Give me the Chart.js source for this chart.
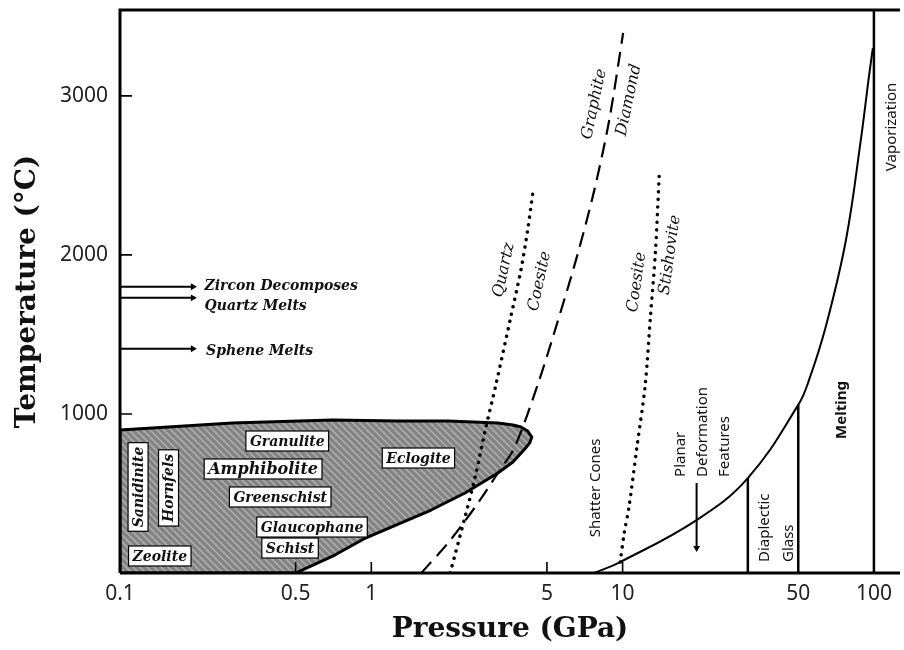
<!DOCTYPE html>
<html>
<head>
<meta charset="utf-8">
<script src="https://cdn.jsdelivr.net/npm/chart.js@4.4.0/dist/chart.umd.min.js"></script>
<style>
  html, body { margin: 0; padding: 0; background: #fff; }
  #wrap { width: 904px; height: 650px; position: relative; }
</style>
</head>
<body>
<div id="wrap"><canvas id="ptChart"></canvas></div>
<script>
// axis ticks
const pressureTicks = [0.1, 0.5, 1, 5, 10, 50, 100];
const tempTicks = [1000, 2000, 3000];
const innerTicksX = [0.5, 1, 5, 10];

// metamorphic facies field (closed outline, GPa / °C)
const faciesP = [0.1, 0.1, 0.28, 0.70, 1.28, 2.02, 3.19, 3.66, 3.94, 4.19, 4.35, 4.27, 4.08, 3.66, 3.19, 2.36, 1.73, 1.28, 0.948, 0.716, 0.5, 0.1];
const faciesT = [0, 899, 943, 962, 956, 956, 943, 931, 918, 893, 855, 818, 780, 698, 629, 503, 396, 308, 220, 113, 0, 0];

// quartz / coesite (dotted)
const qzCoeP = [2.06, 2.36, 2.59, 2.83, 3.13, 3.59, 3.94, 4.19, 4.39];
const qzCoeT = [0, 352, 604, 887, 1182, 1610, 1906, 2157, 2390];

// graphite / diamond (dashed)
const grDiaP = [1.58, 2.02, 2.59, 3.19, 3.72, 4.59, 5.51, 6.61, 7.72, 8.85, 10.05];
const grDiaT = [0, 189, 415, 629, 792, 1182, 1579, 2000, 2409, 2849, 3396];

// coesite / stishovite (dotted)
const coeStiP = [9.78, 10.15, 10.6, 11.4, 12.3, 12.9, 13.5, 14.0];
const coeStiT = [69, 252, 415, 792, 1182, 1610, 2013, 2516];

// shock melting curve
const meltP = [7.72, 9.78, 19.7, 31.5, 50, 55.2, 64.6, 77.4, 88.7, 95.5, 99];
const meltT = [0, 69, 333, 597, 1057, 1214, 1560, 2094, 2723, 3119, 3300];

// vertical boundaries: pressure, top temperature
const boundP = [31.5, 50, 100];
const boundTop = [597, 1057, 3540];

// arrows from the temperature axis
const arrowTemps = [1800, 1730, 1410];
const arrowP = [0.1, 0.195];

// planar deformation features arrow
const pdfP = 19.7;
const pdfT = [566, 157];

function pts(xs, ys) { return xs.map((v, i) => ({ x: v, y: ys[i] })); }

function hatch() {
    const c = document.createElement('canvas');
    c.width = 7; c.height = 7;
    const g = c.getContext('2d');
    g.fillStyle = '#838383';
    g.fillRect(0, 0, 7, 7);
    g.lineWidth = 1.7;
    g.strokeStyle = '#ababab';
    g.beginPath();
    g.moveTo(-3.5, -3.5); g.lineTo(10.5, 10.5);
    g.moveTo(-7, 0); g.lineTo(7, 14);
    g.moveTo(0, -7); g.lineTo(14, 7);
    g.stroke();
    return g.createPattern(c, 'repeat');
}

const datasets = [];

datasets.push({
    data: pts(faciesP, faciesT),
    showLine: true, fill: 'shape',
    backgroundColor: hatch(),
    borderColor: '#000', borderWidth: 3, borderJoinStyle: 'round',
    pointRadius: 0, tension: 0, order: 10
});
datasets.push({
    data: pts(qzCoeP, qzCoeT), showLine: true,
    borderColor: '#000', borderWidth: 3.5, borderDash: [0.1, 7.5], borderCapStyle: 'round',
    pointRadius: 0, tension: 0.3, order: 2
});
datasets.push({
    data: pts(grDiaP, grDiaT), showLine: true,
    borderColor: '#000', borderWidth: 2.2, borderDash: [15, 8],
    pointRadius: 0, tension: 0.3, order: 2
});
datasets.push({
    data: pts(coeStiP, coeStiT), showLine: true,
    borderColor: '#000', borderWidth: 3.5, borderDash: [0.1, 7.5], borderCapStyle: 'round',
    pointRadius: 0, tension: 0.3, order: 2
});
datasets.push({
    data: pts(meltP, meltT), showLine: true,
    borderColor: '#000', borderWidth: 2,
    pointRadius: 0, tension: 0.4, order: 2
});
boundP.forEach((p, i) => {
    datasets.push({
        data: [{ x: p, y: 0 }, { x: p, y: boundTop[i] }], showLine: true,
        borderColor: '#000', borderWidth: 2.5, pointRadius: 0, order: 2
    });
});
arrowTemps.forEach(t => {
    datasets.push({
        data: arrowP.map(p => ({ x: p, y: t })), showLine: true,
        borderColor: '#000', borderWidth: 2,
        pointStyle: 'triangle', pointRadius: [0, 4], pointRotation: 90,
        pointBackgroundColor: '#000', pointBorderWidth: 0, order: 2
    });
});
datasets.push({
    data: pdfT.map(t => ({ x: pdfP, y: t })), showLine: true,
    borderColor: '#000', borderWidth: 2,
    pointStyle: 'triangle', pointRadius: [0, 4], pointRotation: 180,
    pointBackgroundColor: '#000', pointBorderWidth: 0, order: 2
});

const IT = 'italic bold 14px "DejaVu Serif"';
const IT_BIG = 'italic bold 16px "DejaVu Serif"';
const IT_ROT = 'italic 16px "DejaVu Serif"';
const SANS = '15px "Noto Sans"';
const SANS_B = 'bold 15px "Noto Sans"';

const notes = [
    { text: 'Zircon Decomposes', p: 0.217, t: 1810, font: IT, align: 'left' },
    { text: 'Quartz Melts', p: 0.217, t: 1685, font: IT, align: 'left' },
    { text: 'Sphene Melts', p: 0.22, t: 1403, font: IT, align: 'left' },
    { text: 'Granulite', p: 0.463, t: 830, font: IT, box: true },
    { text: 'Amphibolite', p: 0.371, t: 654, font: IT_BIG, box: true },
    { text: 'Greenschist', p: 0.434, t: 478, font: IT, box: true },
    { text: 'Glaucophane', p: 0.581, t: 289, font: IT, box: true },
    { text: 'Schist', p: 0.475, t: 157, font: IT, box: true },
    { text: 'Zeolite', p: 0.144, t: 107, font: IT, box: true },
    { text: 'Sanidinite', p: 0.118, t: 541, font: IT, box: true, rot: -90 },
    { text: 'Hornfels', p: 0.156, t: 535, font: IT, box: true, rot: -90 },
    { text: 'Eclogite', p: 1.54, t: 723, font: IT, box: true },
    { text: 'Quartz', p: 3.34, t: 1906, font: IT_ROT, rot: -78 },
    { text: 'Coesite', p: 4.64, t: 1836, font: IT_ROT, rot: -78 },
    { text: 'Graphite', p: 7.65, t: 2950, font: IT_ROT, rot: -78 },
    { text: 'Diamond', p: 10.5, t: 2975, font: IT_ROT, rot: -78 },
    { text: 'Coesite', p: 11.3, t: 1830, font: IT_ROT, rot: -82 },
    { text: 'Stishovite', p: 15.3, t: 2000, font: IT_ROT, rot: -82 },
    { text: 'Shatter Cones', p: 7.73, t: 535, font: SANS, rot: -90 },
    { text: 'Planar', p: 16.9, t: 604, font: SANS, rot: -90, align: 'left' },
    { text: 'Deformation', p: 20.7, t: 604, font: SANS, rot: -90, align: 'left' },
    { text: 'Features', p: 25.2, t: 604, font: SANS, rot: -90, align: 'left' },
    { text: 'Diaplectic', p: 36.3, t: 69, font: SANS, rot: -90, align: 'left' },
    { text: 'Glass', p: 45.6, t: 69, font: SANS, rot: -90, align: 'left' },
    { text: 'Melting', p: 74, t: 1025, font: SANS_B, rot: -90 },
    { text: 'Vaporization', p: 116.7, t: 2805, font: SANS, rot: -90 }
];

const overlay = {
    id: 'overlay',
    afterDatasetsDraw(chart) {
        const { ctx, chartArea: a, scales: { x, y } } = chart;
        ctx.save();
        ctx.strokeStyle = '#000';

        // inward tick marks
        ctx.lineWidth = 1.6;
        ctx.beginPath();
        tempTicks.forEach(t => {
            const py = y.getPixelForValue(t);
            ctx.moveTo(a.left, py); ctx.lineTo(a.left + 12, py);
        });
        innerTicksX.forEach(p => {
            const px = x.getPixelForValue(p);
            ctx.moveTo(px, a.bottom); ctx.lineTo(px, a.bottom - 11);
        });
        ctx.stroke();

        // frame: left, top, bottom
        ctx.lineWidth = 3;
        ctx.beginPath();
        ctx.moveTo(a.left, a.bottom); ctx.lineTo(a.left, a.top); ctx.lineTo(a.right, a.top);
        ctx.moveTo(a.left, a.bottom); ctx.lineTo(a.right, a.bottom);
        ctx.stroke();

        // annotations
        notes.forEach(n => {
            ctx.save();
            ctx.translate(x.getPixelForValue(n.p), y.getPixelForValue(n.t));
            if (n.rot) ctx.rotate(n.rot * Math.PI / 180);
            ctx.font = n.font;
            ctx.textAlign = n.align || 'center';
            ctx.textBaseline = 'middle';
            if (n.box) {
                const w = ctx.measureText(n.text).width;
                ctx.fillStyle = '#fff';
                ctx.fillRect(-w / 2 - 4, -10, w + 8, 20);
                ctx.lineWidth = 1.2;
                ctx.strokeRect(-w / 2 - 4, -10, w + 8, 20);
            }
            ctx.fillStyle = '#111';
            ctx.fillText(n.text, 0, 1);
            ctx.restore();
        });
        ctx.restore();
    }
};

new Chart(document.getElementById('ptChart'), {
    type: 'scatter',
    data: { datasets: datasets },
    options: {
        responsive: true,
        maintainAspectRatio: false,
        animation: false,
        layout: { padding: { top: 10, right: 0, left: 0, bottom: 0 } },
        plugins: { legend: { display: false }, tooltip: { enabled: false } },
        scales: {
            x: {
                type: 'logarithmic',
                min: 0.1, max: 127,
                afterBuildTicks: s => { s.ticks = pressureTicks.map(v => ({ value: v })); },
                afterFit: s => { s.height = 77; s.paddingLeft = 0; s.paddingRight = 0; },
                ticks: {
                    autoSkip: false, maxRotation: 0, padding: 8,
                    color: '#222', font: { family: 'Noto Sans', size: 21 },
                    callback: v => String(v)
                },
                grid: { display: false, drawTicks: false },
                border: { display: false },
                title: {
                    display: true, text: 'Pressure (GPa)',
                    color: '#111', font: { family: 'DejaVu Serif', size: 28, weight: 'bold' },
                    padding: { top: 0, bottom: 3 }
                }
            },
            y: {
                min: 0, max: 3540,
                afterBuildTicks: s => { s.ticks = tempTicks.map(v => ({ value: v })); },
                afterFit: s => { s.width = 120; s.paddingTop = 0; s.paddingBottom = 0; },
                ticks: {
                    padding: 12, color: '#222', font: { family: 'Noto Sans', size: 21 },
                    callback: v => String(v)
                },
                grid: { display: false, drawTicks: false },
                border: { display: false },
                title: {
                    display: true, text: 'Temperature (°C)',
                    color: '#111', font: { family: 'DejaVu Serif', size: 28, weight: 'bold' },
                    padding: { top: 11, bottom: 0 }
                }
            }
        }
    },
    plugins: [overlay]
});
</script>
</body>
</html>
